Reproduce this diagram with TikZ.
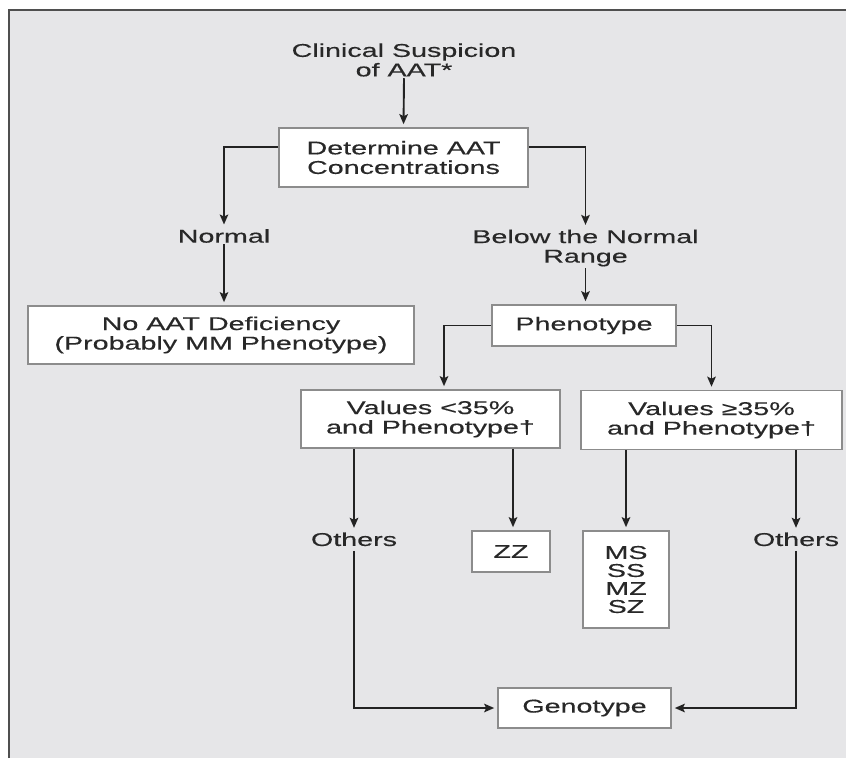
\documentclass[tikz,border=0pt]{standalone}
\usepackage{fontspec}
\setmainfont[FakeStretch=1.55,FakeBold=0.4]{Liberation Sans}
\usetikzlibrary{arrows.meta}
\definecolor{BG}{RGB}{230,230,232}
\definecolor{G1}{RGB}{35,35,35}
\definecolor{G2}{RGB}{140,140,140}
\definecolor{T1}{RGB}{40,40,40}
\tikzstyle{box}=[draw=G2, line width=1.6pt, fill=white, inner sep=0, align=center]
\tikzstyle{lbl}=[inner sep=1.5pt, align=center]
\tikzstyle{ln}=[G1, line width=1.9pt]
\tikzstyle{arr}=[ln, -{Stealth[length=10pt,width=8.5pt,inset=2pt]}, shorten >=3pt]
\begin{document}
\begin{tikzpicture}[x=1pt, y=-1pt,
    every node/.style={font=\fontsize{18.5}{19.5}\selectfont, text=T1}]
    \useasboundingbox (0,0) rectangle (846,758);
    \fill[white] (0,0) rectangle (846,758);
    \fill[BG] (9,10) rectangle (846,758);
    \draw[G1!80, line width=2pt] (9,758) -- (9,10) -- (846,10);
    % top
    \node[lbl] (clin) at (404,60) {Clinical Suspicion\\of AAT*};
    \node[box, minimum width=249, minimum height=59] (det) at (403.5,157.5) {Determine AAT\\Concentrations};
    \node[lbl] (normal) at (224,236) {Normal};
    \node[lbl] (below) at (585.5,248) {Below the Normal\\Range};
    \node[box, minimum width=386, minimum height=58] (noaat) at (221,335) {No AAT Deficiency\\(Probably MM Phenotype)};
    \node[box, minimum width=184, minimum height=41] (pheno) at (584,325.5) {Phenotype};
    % values
    \node[box, minimum width=259, minimum height=58] (lt35) at (430.5,419) {Values <35\%\\and Phenotype†};
    \node[box, minimum width=261, minimum height=59] (ge35) at (711.5,420) {Values ≥35\%\\and Phenotype†};
    \node[lbl] (oth1) at (354,539.3) {Others};
    \node[box, minimum width=78, minimum height=41] (zz) at (511,551.5) {ZZ};
    \node[box, minimum width=86, minimum height=97] (ms) at (626,579.5) {MS\\[-1.5pt]SS\\[-1.5pt]MZ\\[-1.5pt]SZ};
    \node[lbl] (oth2) at (796,539.3) {Others};
    \node[box, minimum width=173, minimum height=40] (geno) at (584.5,708) {Genotype};
    % connectors
    \draw[arr] (clin.south) -- (det.north);
    \draw[arr] ([yshift=10.5pt]det.west) -| (normal.north);
    \draw[arr] ([yshift=10.5pt]det.east) -| (below.north);
    \draw[arr] (normal.south) -- (normal.south |- noaat.north);
    \draw[arr] (below.south) -- (below.south |- pheno.north);
    \draw[arr] (pheno.west) -| ([xshift=13.5pt]lt35.north);
    \draw[arr] (pheno.east) -| (ge35.north);
    \draw[arr] (oth1 |- lt35.south) -- (oth1.north);
    \draw[arr] ([xshift=2pt]zz.north |- lt35.south) -- ([xshift=2pt]zz.north);
    \draw[arr] (ms |- ge35.south) -- (ms.north);
    \draw[arr] (oth2 |- ge35.south) -- (oth2.north);
    \draw[arr, shorten <=3pt] (oth1.south) |- (geno.west);
    \draw[arr, shorten <=3pt] (oth2.south) |- (geno.east);
\end{tikzpicture}
\end{document}
